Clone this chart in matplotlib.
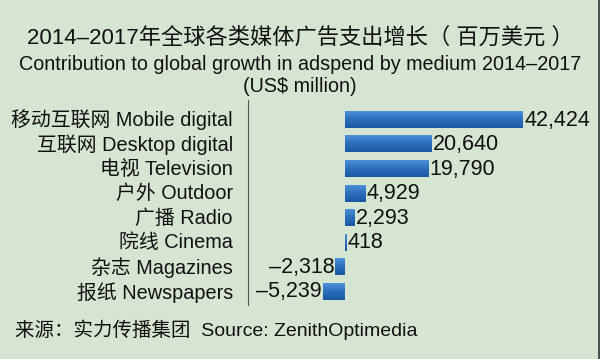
import numpy as np
import matplotlib.pyplot as plt
from matplotlib.colors import LinearSegmentedColormap
from matplotlib.lines import Line2D

# Data
labels = ['移动互联网 Mobile digital', '互联网 Desktop digital', '电视 Television',
          '户外 Outdoor', '广播 Radio', '院线 Cinema', '杂志 Magazines', '报纸 Newspapers']
values = [42424, 20640, 19790, 4929, 2293, 418, -2318, -5239]
value_text = ['42,424', '20,640', '19,790', '4,929', '2,293', '418', '–2,318', '–5,239']

title_cn = '2014–2017年全球各类媒体广告支出增长（ 百万美元 ）'
title_en = 'Contribution to global growth in adspend by medium 2014–2017'
title_en2 = '(US$ million)'
source = '来源：实力传播集团  Source: ZenithOptimedia'

plt.rcParams['font.family'] = ['Liberation Sans', 'Noto Sans CJK SC']

bg = '#d5e5d2'
fig = plt.figure(figsize=(6, 3.59), dpi=100, facecolor=bg)

# axes: left edge at the separator line, 0 at ~345px
ax = fig.add_axes([248 / 600, 1 - 305 / 359, (595 - 248) / 600, 205 / 359])
ax.set_facecolor(bg)
scale = 178 / 42424  # px per unit
ax.set_xlim(-(345 - 248) / scale, (595 - 345) / scale)
ax.set_ylim(7.56, -0.79)

y = np.arange(len(values))
h = 0.69
bars = ax.barh(y, values, height=h, color='#2a6dbb', edgecolor='none')

# vertical gradient on the bars
cmap = LinearSegmentedColormap.from_list('blu', ['#4b90d8', '#2b6ebc', '#1b57a1'])
grad = np.linspace(0, 1, 64).reshape(-1, 1)
for b in bars:
    x0, y0 = b.get_x(), b.get_y()
    w, hh = b.get_width(), b.get_height()
    im = ax.imshow(grad, cmap=cmap, aspect='auto',
                   extent=(x0, x0 + w, y0 + hh, y0), zorder=3)
    im.set_clip_path(b)

for i, (v, t) in enumerate(zip(values, value_text)):
    if v >= 0:
        ax.text(v + 250, i + 0.03, t, va='center', ha='left', fontsize=15.5, color='#111111')
    else:
        ax.text(v - 250, i + 0.03, t, va='center', ha='right', fontsize=15.5, color='#111111')

ax.set_yticks([])
ax.set_xticks([])
for s in ['top', 'right', 'bottom']:
    ax.spines[s].set_visible(False)
ax.spines['left'].set_color('#555555')
ax.spines['left'].set_linewidth(0.8)

# category labels to the left of the separator
for i, lab in enumerate(labels):
    fig.text(233 / 600, 1 - (120 + 24.6 * i) / 359, lab, ha='right', va='center',
             fontsize=14.3, color='#111111')

fig.text(0.5, 1 - 38 / 359, title_cn, ha='center', va='center', fontsize=16, color='#111111')
fig.text(0.5, 1 - 65 / 359, title_en, ha='center', va='center', fontsize=14.2, color='#111111')
fig.text(0.5, 1 - 86 / 359, title_en2, ha='center', va='center', fontsize=14.2, color='#111111')
fig.text(15 / 600, 1 - 330 / 359, source, ha='left', va='center', fontsize=14, color='#111111')

# thin dark border on the right edge
fig.add_artist(Line2D([599 / 600, 599 / 600], [0, 1], transform=fig.transFigure,
                      color='#333333', linewidth=1.2))

fig.savefig('out.png', dpi=100, facecolor=bg)
